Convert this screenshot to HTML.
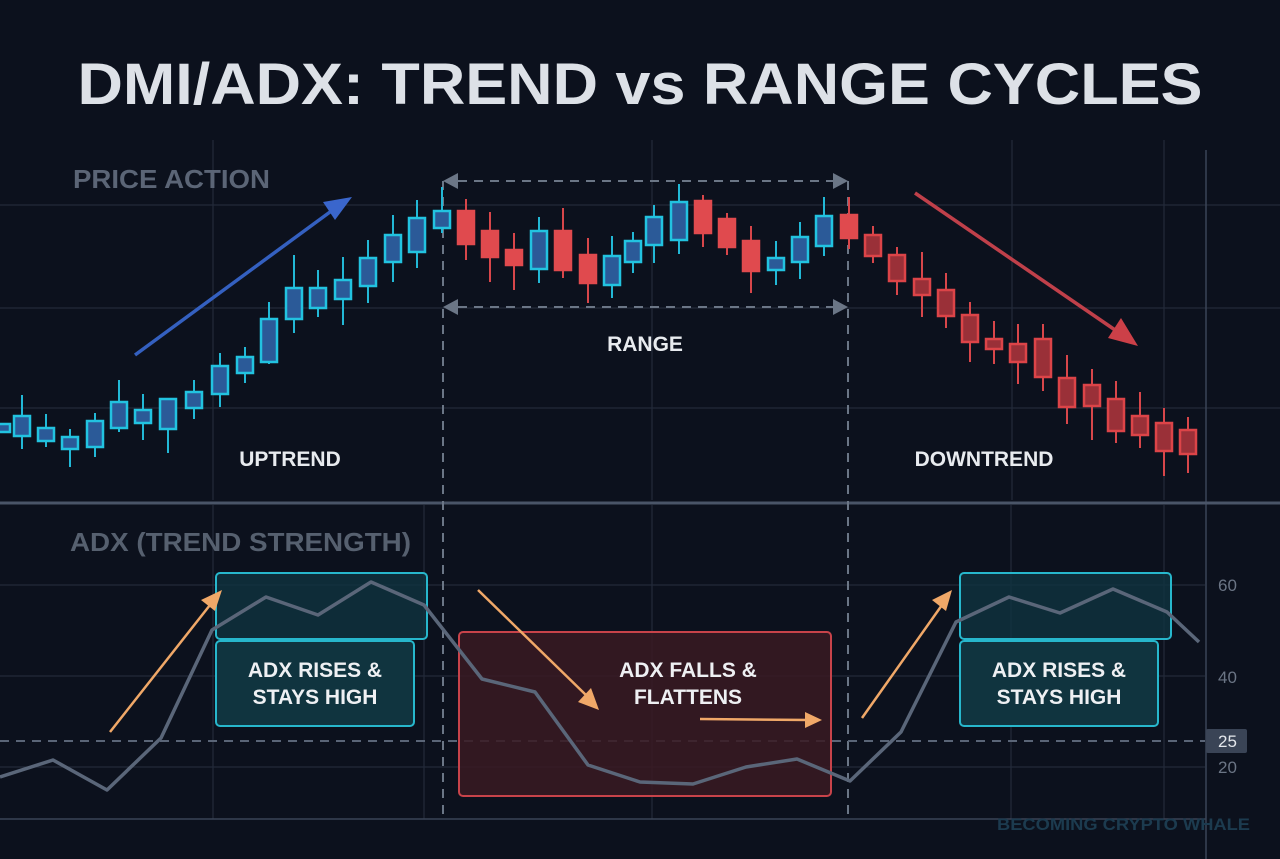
<!DOCTYPE html>
<html><head><meta charset="utf-8"><style>html,body{margin:0;padding:0;background:#0c111d;}svg{display:block}
.b line{stroke:#22b8d6;stroke-width:2}.b rect{fill:#2b5a98;stroke:#22c3e0;stroke-width:2.5}
.r line{stroke:#d8464a;stroke-width:2}.r rect{fill:#e04a4e;stroke:#e04a4e;stroke-width:2.5}
.d line{stroke:#d8464a;stroke-width:2}.d rect{fill:#9a3038;stroke:#dc4448;stroke-width:2.5}
</style></head>
<body>
<svg width="1280" height="859" viewBox="0 0 1280 859" xmlns="http://www.w3.org/2000/svg" font-family="Liberation Sans, sans-serif">
<rect width="1280" height="859" fill="#0c111d"/>
<g stroke="#232b3a" stroke-width="1.2">
<line x1="0" y1="205" x2="1280" y2="205"/><line x1="0" y1="308" x2="1280" y2="308"/><line x1="0" y1="408" x2="1280" y2="408"/>
<line x1="213" y1="140" x2="213" y2="500"/><line x1="652" y1="140" x2="652" y2="500"/><line x1="1012" y1="140" x2="1012" y2="500"/><line x1="1164" y1="140" x2="1164" y2="500"/>
<line x1="0" y1="585" x2="1205" y2="585"/><line x1="0" y1="676" x2="1205" y2="676"/><line x1="0" y1="767" x2="1205" y2="767"/>
<line x1="213" y1="505" x2="213" y2="819"/><line x1="424" y1="505" x2="424" y2="819"/><line x1="652" y1="505" x2="652" y2="819"/><line x1="1011" y1="505" x2="1011" y2="819"/><line x1="1164" y1="505" x2="1164" y2="819"/>
</g>
<line x1="1206" y1="150" x2="1206" y2="859" stroke="#3a4456" stroke-width="1.5"/>
<line x1="0" y1="819" x2="1206" y2="819" stroke="#3a4456" stroke-width="1.5"/>
<line x1="0" y1="503" x2="1280" y2="503" stroke="#4a5568" stroke-width="3"/>
<text x="640" y="104" text-anchor="middle" font-size="58" font-weight="bold" fill="#dde1e7" textLength="1125" lengthAdjust="spacingAndGlyphs">DMI/ADX: TREND vs RANGE CYCLES</text>
<text x="73" y="188" font-size="26" font-weight="bold" fill="#5b6576" textLength="197" lengthAdjust="spacingAndGlyphs">PRICE ACTION</text>
<text x="70" y="551" font-size="26" font-weight="bold" fill="#56606f" textLength="341" lengthAdjust="spacingAndGlyphs">ADX (TREND STRENGTH)</text>
<g stroke="#6b7686" stroke-width="2" stroke-dasharray="9,7">
<line x1="443" y1="181" x2="443" y2="819"/><line x1="848" y1="181" x2="848" y2="819"/>
<line x1="458" y1="181" x2="836" y2="181"/><line x1="458" y1="307" x2="836" y2="307"/>
</g>
<g fill="#6b7686"><path d="M443,181 L458,173 L458,189z"/><path d="M848,181 L833,173 L833,189z"/><path d="M443,307 L458,299 L458,315z"/><path d="M848,307 L833,299 L833,315z"/></g>
<line x1="135" y1="355" x2="330" y2="212" stroke="#3460c0" stroke-width="3.5"/>
<path d="M352,197 L323,202 L335,220 z" fill="#3a66cc"/>
<line x1="915" y1="193" x2="1118" y2="332" stroke="#c0404a" stroke-width="3.5"/>
<path d="M1138,346 L1108,338 L1121,318 z" fill="#cc4048"/>
<g class="b"><rect x="-6" y="424" width="16" height="8"/></g>
<g class="b"><line x1="22" y1="395" x2="22" y2="449"/><rect x="14" y="416" width="16" height="20"/></g>
<g class="b"><line x1="46" y1="414" x2="46" y2="447"/><rect x="38" y="428" width="16" height="13"/></g>
<g class="b"><line x1="70" y1="429" x2="70" y2="467"/><rect x="62" y="437" width="16" height="12"/></g>
<g class="b"><line x1="95" y1="413" x2="95" y2="457"/><rect x="87" y="421" width="16" height="26"/></g>
<g class="b"><line x1="119" y1="380" x2="119" y2="432"/><rect x="111" y="402" width="16" height="26"/></g>
<g class="b"><line x1="143" y1="394" x2="143" y2="440"/><rect x="135" y="410" width="16" height="13"/></g>
<g class="b"><line x1="168" y1="399" x2="168" y2="453"/><rect x="160" y="399" width="16" height="30"/></g>
<g class="b"><line x1="194" y1="380" x2="194" y2="419"/><rect x="186" y="392" width="16" height="16"/></g>
<g class="b"><line x1="220" y1="353" x2="220" y2="407"/><rect x="212" y="366" width="16" height="28"/></g>
<g class="b"><line x1="245" y1="347" x2="245" y2="383"/><rect x="237" y="357" width="16" height="16"/></g>
<g class="b"><line x1="269" y1="302" x2="269" y2="364"/><rect x="261" y="319" width="16" height="43"/></g>
<g class="b"><line x1="294" y1="255" x2="294" y2="333"/><rect x="286" y="288" width="16" height="31"/></g>
<g class="b"><line x1="318" y1="270" x2="318" y2="317"/><rect x="310" y="288" width="16" height="20"/></g>
<g class="b"><line x1="343" y1="257" x2="343" y2="325"/><rect x="335" y="280" width="16" height="19"/></g>
<g class="b"><line x1="368" y1="240" x2="368" y2="303"/><rect x="360" y="258" width="16" height="28"/></g>
<g class="b"><line x1="393" y1="215" x2="393" y2="282"/><rect x="385" y="235" width="16" height="27"/></g>
<g class="b"><line x1="417" y1="200" x2="417" y2="268"/><rect x="409" y="218" width="16" height="34"/></g>
<g class="b"><line x1="442" y1="187" x2="442" y2="233"/><rect x="434" y="211" width="16" height="17"/></g>
<g class="r"><line x1="466" y1="199" x2="466" y2="260"/><rect x="458" y="211" width="16" height="33"/></g>
<g class="r"><line x1="490" y1="212" x2="490" y2="282"/><rect x="482" y="231" width="16" height="26"/></g>
<g class="r"><line x1="514" y1="233" x2="514" y2="290"/><rect x="506" y="250" width="16" height="15"/></g>
<g class="b"><line x1="539" y1="217" x2="539" y2="283"/><rect x="531" y="231" width="16" height="38"/></g>
<g class="r"><line x1="563" y1="208" x2="563" y2="278"/><rect x="555" y="231" width="16" height="39"/></g>
<g class="r"><line x1="588" y1="238" x2="588" y2="303"/><rect x="580" y="255" width="16" height="28"/></g>
<g class="b"><line x1="612" y1="236" x2="612" y2="298"/><rect x="604" y="256" width="16" height="29"/></g>
<g class="b"><line x1="633" y1="232" x2="633" y2="273"/><rect x="625" y="241" width="16" height="21"/></g>
<g class="b"><line x1="654" y1="205" x2="654" y2="263"/><rect x="646" y="217" width="16" height="28"/></g>
<g class="b"><line x1="679" y1="184" x2="679" y2="254"/><rect x="671" y="202" width="16" height="38"/></g>
<g class="r"><line x1="703" y1="195" x2="703" y2="247"/><rect x="695" y="201" width="16" height="32"/></g>
<g class="r"><line x1="727" y1="213" x2="727" y2="255"/><rect x="719" y="219" width="16" height="28"/></g>
<g class="r"><line x1="751" y1="226" x2="751" y2="293"/><rect x="743" y="241" width="16" height="30"/></g>
<g class="b"><line x1="776" y1="241" x2="776" y2="285"/><rect x="768" y="258" width="16" height="12"/></g>
<g class="b"><line x1="800" y1="222" x2="800" y2="279"/><rect x="792" y="237" width="16" height="25"/></g>
<g class="b"><line x1="824" y1="197" x2="824" y2="256"/><rect x="816" y="216" width="16" height="30"/></g>
<g class="r"><line x1="849" y1="197" x2="849" y2="249"/><rect x="841" y="215" width="16" height="23"/></g>
<g class="d"><line x1="873" y1="226" x2="873" y2="263"/><rect x="865" y="235" width="16" height="21"/></g>
<g class="d"><line x1="897" y1="247" x2="897" y2="295"/><rect x="889" y="255" width="16" height="26"/></g>
<g class="d"><line x1="922" y1="252" x2="922" y2="317"/><rect x="914" y="279" width="16" height="16"/></g>
<g class="d"><line x1="946" y1="273" x2="946" y2="328"/><rect x="938" y="290" width="16" height="26"/></g>
<g class="d"><line x1="970" y1="302" x2="970" y2="362"/><rect x="962" y="315" width="16" height="27"/></g>
<g class="d"><line x1="994" y1="321" x2="994" y2="364"/><rect x="986" y="339" width="16" height="10"/></g>
<g class="d"><line x1="1018" y1="324" x2="1018" y2="384"/><rect x="1010" y="344" width="16" height="18"/></g>
<g class="d"><line x1="1043" y1="324" x2="1043" y2="391"/><rect x="1035" y="339" width="16" height="38"/></g>
<g class="d"><line x1="1067" y1="355" x2="1067" y2="424"/><rect x="1059" y="378" width="16" height="29"/></g>
<g class="d"><line x1="1092" y1="369" x2="1092" y2="440"/><rect x="1084" y="385" width="16" height="21"/></g>
<g class="d"><line x1="1116" y1="381" x2="1116" y2="443"/><rect x="1108" y="399" width="16" height="32"/></g>
<g class="d"><line x1="1140" y1="392" x2="1140" y2="448"/><rect x="1132" y="416" width="16" height="19"/></g>
<g class="d"><line x1="1164" y1="408" x2="1164" y2="476"/><rect x="1156" y="423" width="16" height="28"/></g>
<g class="d"><line x1="1188" y1="417" x2="1188" y2="473"/><rect x="1180" y="430" width="16" height="24"/></g>
<text x="290" y="466" text-anchor="middle" font-size="21" font-weight="bold" fill="#e8ebef">UPTREND</text>
<text x="645" y="351" text-anchor="middle" font-size="21" font-weight="bold" fill="#e8ebef">RANGE</text>
<text x="984" y="466" text-anchor="middle" font-size="21" font-weight="bold" fill="#e8ebef">DOWNTREND</text>
<line x1="0" y1="741" x2="1205" y2="741" stroke="#5a6577" stroke-width="2" stroke-dasharray="9,7"/>
<rect x="459" y="632" width="372" height="164" rx="4" fill="#3a1a22" fill-opacity="0.85" stroke="#c8434a" stroke-width="2"/>
<rect x="216" y="573" width="211" height="66" rx="4" fill="#0f3340" fill-opacity="0.8" stroke="#27b7cc" stroke-width="2"/>
<rect x="960" y="573" width="211" height="66" rx="4" fill="#0f3340" fill-opacity="0.8" stroke="#27b7cc" stroke-width="2"/>
<polyline fill="none" stroke="#5a6679" stroke-width="3.5" stroke-linejoin="round" points="0,777 53,760 107,790 161,738 212,630 266,597 318,615 371,582 424,605 482,679 535,692 588,765 640,782 693,784 746,767 797,759 850,781 901,732 956,622 1009,597 1060,613 1113,589 1167,612 1199,642"/>
<rect x="216" y="641" width="198" height="85" rx="4" fill="#10343f" stroke="#27b7cc" stroke-width="2"/>
<rect x="960" y="641" width="198" height="85" rx="4" fill="#10343f" stroke="#27b7cc" stroke-width="2"/>
<g font-size="21" font-weight="bold" fill="#eef0f3" text-anchor="middle">
<text x="315" y="677">ADX RISES &amp;</text><text x="315" y="704">STAYS HIGH</text>
<text x="1059" y="677">ADX RISES &amp;</text><text x="1059" y="704">STAYS HIGH</text>
<text x="688" y="677">ADX FALLS &amp;</text><text x="688" y="704">FLATTENS</text>
</g>
<g stroke="#f0a868" stroke-width="2.5" fill="#f0a868">
<line x1="110" y1="732" x2="210" y2="605"/><path d="M222,590 L201,600 L215,611z" stroke="none"/>
<line x1="478" y1="590" x2="588" y2="697"/><path d="M599,710 L578,702 L591,688z" stroke="none"/>
<line x1="700" y1="719" x2="810" y2="720"/><path d="M822,720 L805,712 L805,728z" stroke="none"/>
<line x1="862" y1="718" x2="942" y2="605"/><path d="M952,590 L932,600 L946,611z" stroke="none"/>
</g>
<g font-size="17" fill="#6b7585">
<text x="1218" y="591">60</text><text x="1218" y="683">40</text><text x="1218" y="773">20</text>
</g>
<rect x="1206" y="729" width="41" height="24" rx="2" fill="#3a4456"/>
<text x="1218" y="747" font-size="17" fill="#e4e7ec">25</text>
<text x="997" y="830" font-size="17" font-weight="bold" fill="#1c3b4f" textLength="253" lengthAdjust="spacingAndGlyphs">BECOMING CRYPTO WHALE</text>
</svg>
</body></html>
